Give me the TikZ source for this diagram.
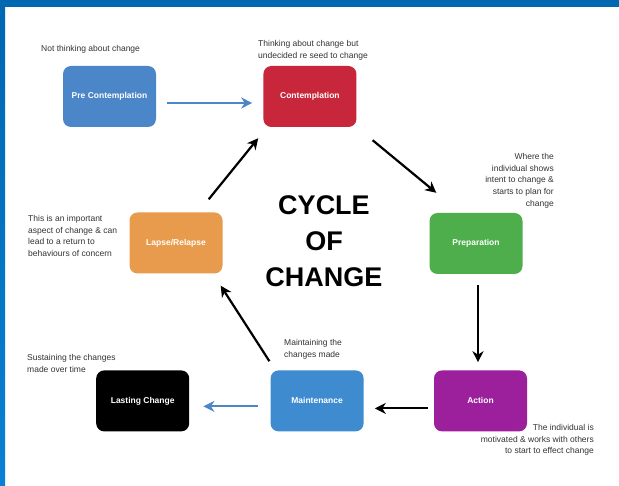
\documentclass[tikz,border=0pt]{standalone}
\usepackage{fontspec}
\setmainfont{Liberation Sans}
\usepackage{xcolor}
\usetikzlibrary{shapes,arrows,arrows.meta,positioning}

\definecolor{bandblue}{HTML}{0067B1}
\definecolor{stripblue}{HTML}{0A80D4}
\definecolor{preblue}{HTML}{4A86C8}
\definecolor{contred}{HTML}{C8263A}
\definecolor{prepgreen}{HTML}{4DAE4B}
\definecolor{lapseorange}{HTML}{E89B4C}
\definecolor{maintblue}{HTML}{3F8BD0}
\definecolor{actpurple}{HTML}{9C1F9C}
\definecolor{notegray}{HTML}{333333}

\begin{document}
\begin{tikzpicture}[
    x=1pt, y=-1pt,
    stage/.style={rectangle, minimum width=93pt, minimum height=61pt, rounded corners=8pt, text=white, font=\fontsize{8.5}{10}\selectfont\bfseries},
    note/.style={inner sep=0pt, text=notegray, font=\fontsize{8.5}{11.7}\selectfont},
    arrow/.style={line width=2.2pt,->,>={Stealth[length=11pt,width=11pt,inset=3.5pt]}},
    bluearrow/.style={arrow, draw=preblue}
]
\useasboundingbox (0,0) rectangle (619,486);
\fill[white] (0,0) rectangle (619,486);

% Frame
\shade[top color=bandblue, bottom color=stripblue] (0,0) rectangle (5,486);
\fill[bandblue] (0,0) rectangle (619,7);

% Stages
\node (pre) [stage, fill=preblue] at (109.5,96.5) {Pre Contemplation};
\node (contemp) [stage, fill=contred, right=107pt of pre] {Contemplation};
\node (prep) [stage, fill=prepgreen] at (476,243.5) {Preparation};
\node (action) [stage, fill=actpurple, below=96pt of prep, xshift=4.5pt] {Action};
\node (maint) [stage, fill=maintblue, left=70pt of action] {Maintenance};
\node (lasting) [stage, fill=black, left=81pt of maint] {Lasting Change};
\node (lapse) [stage, fill=lapseorange] at (176,243) {Lapse/Relapse};

% Title
\node (title) [align=center, font=\fontsize{27}{36}\selectfont\bfseries] at (324,241) {CYCLE\\OF\\CHANGE};

% Notes
\node (prenote) [note, anchor=north west] at (41,45) {Not thinking about change};
\node (contnote) [note, anchor=north west, align=left] at (258,40) {Thinking about change but\\undecided re seed to change};
\node (prepnote) [note, anchor=north east, align=right] at (554,153) {Where the\\individual shows\\intent to change \&\\starts to plan for\\change};
\node (lapsenote) [note, anchor=north west, align=left] at (28,215) {This is an important\\aspect of change \& can\\lead to a return to\\behaviours of concern};
\node (lastnote) [note, anchor=north west, align=left] at (27,354) {Sustaining the changes\\made over time};
\node (maintnote) [note, anchor=north west, align=left] at (284,339) {Maintaining the\\changes made};
\node (actnote) [note, anchor=north east, align=right] at (594,424) {The individual is\\motivated \& works with others\\to start to effect change};

% Connectors
\draw [bluearrow] ([shift={(11,6.5)}]pre.east) -- ([shift={(-11,6.5)}]contemp.west);
\draw [arrow] ([shift={(16,13)}]contemp.south east) -- ([shift={(7,-20)}]prep.north west);
\draw [arrow] ([shift={(2,11)}]prep.south) -- ([shift={(-2.5,-8)}]action.north);
\draw [arrow] ([shift={(-6,7.5)}]action.west) -- ([shift={(11,7.5)}]maint.east);
\draw [bluearrow] ([shift={(-12,5.5)}]maint.west) -- ([shift={(14,5.5)}]lasting.east);
\draw [arrow] ([shift={(-1,-9)}]maint.north west) -- ([shift={(-2,12)}]lapse.south east);
\draw [arrow] ([shift={(-14,-13)}]lapse.north east) -- ([shift={(-5,11)}]contemp.south west);

\end{tikzpicture}
\end{document}
